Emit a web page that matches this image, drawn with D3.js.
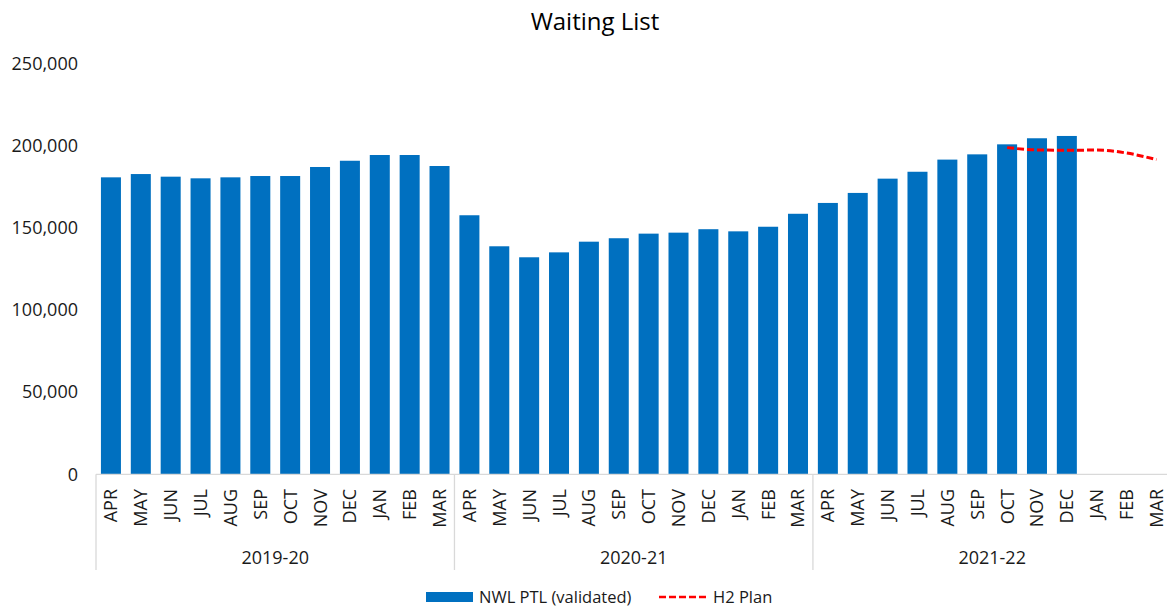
<!DOCTYPE html>
<html>
<head>
<meta charset="utf-8">
<script src="https://cdn.jsdelivr.net/npm/d3@7"></script>
<style>
  html, body { margin: 0; padding: 0; background: #fff; }
  svg { display: block; font-family: "Open Sans", "Noto Sans", sans-serif; }
</style>
</head>
<body>
<svg id="chart" width="1167" height="608"></svg>
<script>
// ---- data ----
const years = ["2019-20", "2020-21", "2021-22"];
const months = ["APR","MAY","JUN","JUL","AUG","SEP","OCT","NOV","DEC","JAN","FEB","MAR"];
const ptl = [
  180900, 182900, 181300, 180300, 180900, 181700, 181700, 187200, 191000, 194500, 194500, 187800,
  157800, 138900, 132200, 135200, 141700, 143800, 146600, 147200, 149300, 148000, 150800, 158700,
  165300, 171400, 180100, 184300, 191700, 194900, 201000, 204700, 206100, null, null, null
];
const planStart = 30; // index of OCT 2021-22
const plan = [199000, 197600, 197400, 197500, 195700, 191700];
const yTicks = [0, 50000, 100000, 150000, 200000, 250000];

// ---- build categories ----
const cats = [];
years.forEach((y, yi) => months.forEach((m, mi) => cats.push({ key: y + "|" + m, year: y, month: m, idx: yi * 12 + mi })));

const svg = d3.select("#chart");
const x0 = 96, x1 = 1171.4;
const x = d3.scaleBand().domain(cats.map(d => d.key)).range([x0, x1]).paddingInner(0.33).paddingOuter(0.165);
const step = (x1 - x0) / cats.length;
const y = d3.scaleLinear().domain([0, 250000]).range([474.3, 63.9]);

// title
svg.append("text").attr("x", 595).attr("y", 30).attr("text-anchor", "middle")
  .attr("font-size", 24).attr("fill", "#000").text("Waiting List");

// y axis labels
const yAxis = d3.axisLeft(y).tickValues(yTicks).tickSize(0).tickPadding(0).tickFormat(d3.format(","));
const gy = svg.append("g").attr("transform", "translate(78,0)").call(yAxis);
gy.select(".domain").remove();
gy.selectAll("text").attr("font-size", 18).attr("fill", "#1a1a1a").attr("font-family", "Open Sans");

// bars
svg.append("g").selectAll("rect").data(cats.filter(d => ptl[d.idx] != null)).join("rect")
  .attr("x", d => x(d.key)).attr("width", x.bandwidth())
  .attr("y", d => y(ptl[d.idx])).attr("height", d => y(0) - y(ptl[d.idx]))
  .attr("fill", "#0070C0");

// baseline
svg.append("line").attr("x1", x0).attr("x2", 1167).attr("y1", y(0)).attr("y2", y(0))
  .attr("stroke", "#d9d9d9").attr("stroke-width", 1.3);

// group dividers
svg.append("g").selectAll("line").data(d3.range(years.length + 1)).join("line")
  .attr("x1", i => x0 + i * 12 * step).attr("x2", i => x0 + i * 12 * step)
  .attr("y1", y(0)).attr("y2", 570)
  .attr("stroke", "#d9d9d9").attr("stroke-width", 1.3);

// month labels
svg.append("g").selectAll("text").data(cats).join("text")
  .attr("transform", d => `translate(${x(d.key) + x.bandwidth() / 2},489) rotate(-90)`)
  .attr("text-anchor", "end").attr("dy", "0.36em")
  .attr("font-size", 18).attr("fill", "#1a1a1a").text(d => d.month);

// year labels
svg.append("g").selectAll("text").data(years).join("text")
  .attr("x", (d, i) => x0 + (i * 12 + 6) * step).attr("y", 558).attr("dy", "0.35em")
  .attr("text-anchor", "middle").attr("font-size", 18).attr("fill", "#1a1a1a").text(d => d);

// plan line
const line = d3.line()
  .x((d, i) => x(cats[planStart + i].key) + x.bandwidth() / 2)
  .y(d => y(d))
  .curve(d3.curveMonotoneX);
svg.append("path").datum(plan).attr("d", line)
  .attr("fill", "none").attr("stroke", "#FF0000").attr("stroke-width", 3)
  .attr("stroke-dasharray", "7,3");

// legend
const lg = svg.append("g");
lg.append("rect").attr("x", 426).attr("y", 592).attr("width", 47).attr("height", 10).attr("fill", "#0070C0");
lg.append("text").attr("x", 479).attr("y", 597).attr("dy", "0.35em").attr("font-size", 16.5)
  .attr("fill", "#1a1a1a").text("NWL PTL (validated)");
lg.append("line").attr("x1", 659).attr("x2", 708).attr("y1", 597).attr("y2", 597)
  .attr("stroke", "#FF0000").attr("stroke-width", 2.5).attr("stroke-dasharray", "7,3");
lg.append("text").attr("x", 713).attr("y", 597).attr("dy", "0.35em").attr("font-size", 16.5)
  .attr("fill", "#1a1a1a").text("H2 Plan");
</script>
</body>
</html>
